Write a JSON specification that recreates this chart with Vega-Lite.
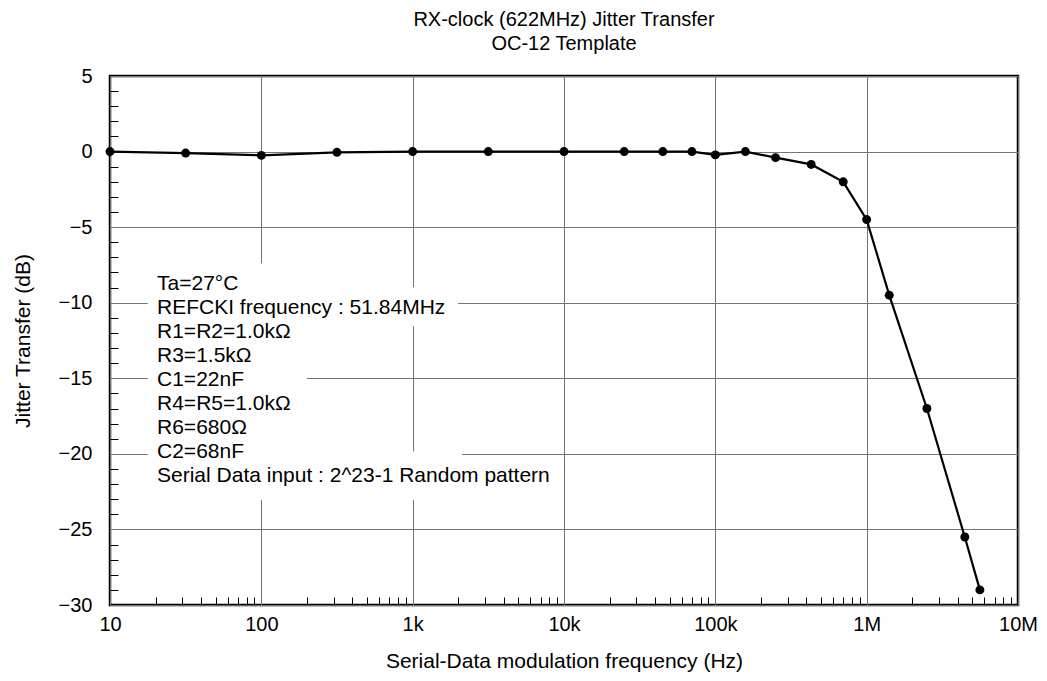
{
  "$schema": "https://vega.github.io/schema/vega-lite/v6.json",
  "width": 908,
  "height": 529,
  "autosize": {"type": "none"},
  "padding": {"left": 110, "top": 76, "right": 29, "bottom": 76},
  "background": "white",
  "config": {
    "font": "Liberation Sans",
    "view": {"stroke": "black", "strokeWidth": 2.5},
    "axis": {
      "labelFont": "Liberation Sans",
      "titleFont": "Liberation Sans",
      "labelColor": "black",
      "titleColor": "black",
      "labelFontSize": 20,
      "titleFontSize": 21,
      "titleFontWeight": "normal"
    }
  },
  "title": {
    "text": ["RX-clock (622MHz) Jitter Transfer", "OC-12 Template"],
    "fontSize": 20,
    "fontWeight": "normal",
    "font": "Liberation Sans",
    "color": "black",
    "anchor": "middle",
    "frame": "group",
    "lineHeight": 24,
    "baseline": "bottom",
    "offset": -8
  },
  "datasets": {
    "jt": [
      {"freq": 10, "db": 0},
      {"freq": 31.6, "db": -0.1},
      {"freq": 100, "db": -0.25},
      {"freq": 316, "db": -0.05},
      {"freq": 1000, "db": 0},
      {"freq": 3160, "db": 0},
      {"freq": 10000, "db": 0},
      {"freq": 25000, "db": 0},
      {"freq": 45000, "db": 0},
      {"freq": 70000, "db": 0},
      {"freq": 100000, "db": -0.22},
      {"freq": 158000, "db": 0},
      {"freq": 250000, "db": -0.4},
      {"freq": 430000, "db": -0.85},
      {"freq": 700000, "db": -2.0},
      {"freq": 1000000, "db": -4.5},
      {"freq": 1410000, "db": -9.5},
      {"freq": 2500000, "db": -17.0},
      {"freq": 4450000, "db": -25.5},
      {"freq": 5600000, "db": -29.0}
    ],
    "boxes": [
      {"f1": 17.8, "f2": 200, "d1": -7.4, "d2": -23.05},
      {"f1": 17.8, "f2": 1995, "d1": -8.98, "d2": -11.56},
      {"f1": 17.8, "f2": 2118, "d1": -19.84, "d2": -23.05}
    ],
    "notes": [
      {"freq": 20.45, "db": -9.18, "label": ["Ta=27°C", "REFCKI frequency : 51.84MHz", "R1=R2=1.0kΩ", "R3=1.5kΩ", "C1=22nF", "R4=R5=1.0kΩ", "R6=680Ω", "C2=68nF", "Serial Data input : 2^23-1 Random pattern"]}
    ]
  },
  "resolve": {"axis": {"x": "independent", "y": "independent"}},
  "layer": [
    {
      "data": {"name": "boxes"},
      "mark": {"type": "rect", "fill": "white", "strokeWidth": 0},
      "encoding": {
        "x": {"field": "f1", "type": "quantitative", "scale": {"type": "log", "domain": [10, 10000000], "nice": false}, "axis": null},
        "x2": {"field": "f2"},
        "y": {"field": "d1", "type": "quantitative", "scale": {"domain": [-30, 5], "nice": false, "zero": false}, "axis": null},
        "y2": {"field": "d2"}
      }
    },
    {
      "data": {"name": "jt"},
      "mark": {"type": "line", "color": "black", "strokeWidth": 2.2},
      "encoding": {
        "x": {
          "field": "freq", "type": "quantitative",
          "scale": {"type": "log", "domain": [10, 10000000], "nice": false},
          "axis": {
            "orient": "bottom",
            "values": [10, 100, 1000, 10000, 100000, 1000000, 10000000],
            "grid": true, "gridColor": "#757575", "gridWidth": 1,
            "ticks": false, "domain": false,
            "labelExpr": "datum.value >= 1000000 ? (datum.value / 1000000) + 'M' : datum.value >= 1000 ? (datum.value / 1000) + 'k' : '' + datum.value",
            "labelPadding": 9, "labelFlush": false, "labelOverlap": false, "labelBound": false,
            "title": "Serial-Data modulation frequency (Hz)",
            "titlePadding": 16
          }
        },
        "y": {
          "field": "db", "type": "quantitative",
          "scale": {"domain": [-30, 5], "nice": false, "zero": false},
          "axis": {
            "orient": "left",
            "values": [-30, -25, -20, -15, -10, -5, 0, 5],
            "grid": true, "gridColor": "#757575", "gridWidth": 1,
            "ticks": false, "domain": false,
            "labelPadding": 18, "labelFlush": false, "labelOverlap": false, "labelBound": false,
            "title": "Jitter Transfer (dB)",
            "titlePadding": 25
          }
        }
      }
    },
    {
      "data": {"name": "jt"},
      "mark": {"type": "point", "filled": true, "color": "black", "opacity": 1, "size": 80},
      "encoding": {
        "x": {
          "field": "freq", "type": "quantitative",
          "scale": {"type": "log", "domain": [10, 10000000], "nice": false},
          "axis": {
            "orient": "bottom",
            "values": [20, 30, 40, 50, 60, 70, 80, 90, 200, 300, 400, 500, 600, 700, 800, 900, 2000, 3000, 4000, 5000, 6000, 7000, 8000, 9000, 20000, 30000, 40000, 50000, 60000, 70000, 80000, 90000, 200000, 300000, 400000, 500000, 600000, 700000, 800000, 900000, 2000000, 3000000, 4000000, 5000000, 6000000, 7000000, 8000000, 9000000],
            "grid": false, "labels": false, "domain": false,
            "ticks": true, "tickSize": -8, "tickColor": "black", "tickWidth": 1,
            "title": null
          }
        },
        "y": {
          "field": "db", "type": "quantitative",
          "scale": {"domain": [-30, 5], "nice": false, "zero": false},
          "axis": {
            "orient": "left",
            "values": [-29, -28, -27, -26, -24, -23, -22, -21, -19, -18, -17, -16, -14, -13, -12, -11, -9, -8, -7, -6, -4, -3, -2, -1, 1, 2, 3, 4],
            "grid": false, "labels": false, "domain": false,
            "ticks": true, "tickSize": -8, "tickColor": "black", "tickWidth": 1,
            "title": null
          }
        }
      }
    },
    {
      "data": {"name": "notes"},
      "mark": {"type": "text", "align": "left", "baseline": "alphabetic", "fontSize": 21, "lineHeight": 24, "color": "black", "font": "Liberation Sans"},
      "encoding": {
        "x": {"field": "freq", "type": "quantitative", "scale": {"type": "log", "domain": [10, 10000000], "nice": false}, "axis": null},
        "y": {"field": "db", "type": "quantitative", "scale": {"domain": [-30, 5], "nice": false, "zero": false}, "axis": null},
        "text": {"field": "label"}
      }
    }
  ]
}
